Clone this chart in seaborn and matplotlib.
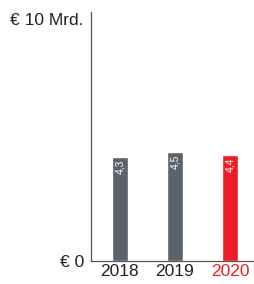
import matplotlib.pyplot as plt
import seaborn as sns
import pandas as pd

# Werte in Mrd. Euro
years = ['2018', '2019', '2020']
values = [4.3, 4.5, 4.4]
labels = ['4,3', '4,5', '4,4']
colors = ['#5b636b', '#5b636b', '#ee1c25']

data = pd.DataFrame({'year': years, 'value': values})

sns.set_style('white')
plt.rcParams['font.family'] = ['Liberation Sans', 'DejaVu Sans']

fig = plt.figure(figsize=(2.54, 2.84), dpi=100)
ax = fig.add_axes([0.358, 0.081, 0.642, 0.877])

sns.barplot(data, x='year', y='value', hue='year', palette=colors, legend=False,
            width=0.29, saturation=1, ax=ax)

for i, (v, t) in enumerate(zip(values, labels)):
    ax.text(i, v - 0.12, t, rotation=90, ha='center', va='top', color='white', fontsize=7.5)

ax.set_xlim(-0.527, 2.436)
ax.set_ylim(0, 10.3)
ax.set_yticks([0, 10], labels=['€ 0', '€ 10 Mrd.'])
ax.set_xlabel('')
ax.set_ylabel('')
ax.tick_params(length=0, labelsize=12.5, colors='#222222')
ax.tick_params(axis='y', pad=5)
ax.tick_params(axis='x', pad=2)
ax.get_xticklabels()[2].set_color('#ee1c25')

for s in ['top', 'right']:
    ax.spines[s].set_visible(False)
for s in ['left', 'bottom']:
    ax.spines[s].set_color('#555555')
    ax.spines[s].set_linewidth(0.9)

fig.savefig('out.png', dpi=100)
